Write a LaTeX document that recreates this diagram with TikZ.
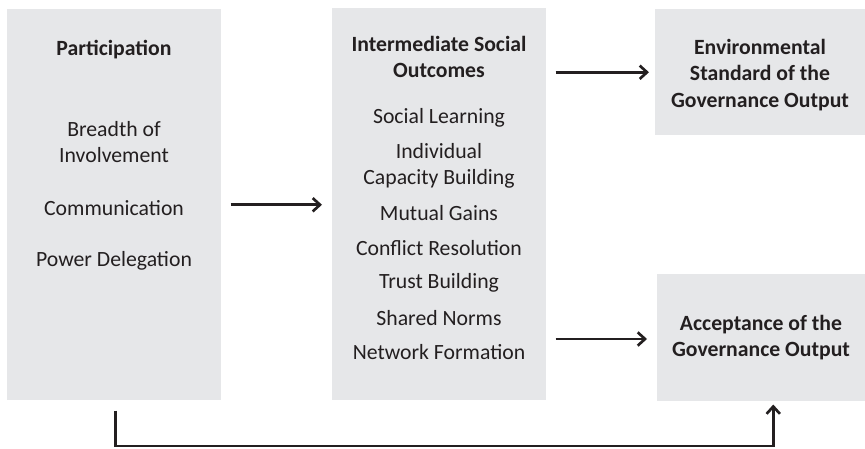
\documentclass[tikz,border=0pt]{standalone}
\usepackage{fontspec}
\setmainfont{Carlito}
\usetikzlibrary{arrows.meta,calc}
\definecolor{boxgray}{RGB}{230,231,233}
\definecolor{ink}{RGB}{35,31,32}
\begin{document}
\begin{tikzpicture}[x=0.75pt,y=-0.75pt,
  box/.style={fill=boxgray,draw=none,inner sep=0pt,anchor=north west},
  txt/.style={text=ink,align=center,font=\fontsize{16.3}{19.6}\selectfont,inner sep=0pt},
  ttl/.style={txt,font=\fontsize{16.3}{19.6}\selectfont\bfseries},
  tip/.style={-{Straight Barb[length=5.5pt,width=10pt,line width=2pt]}},
  arr/.style={draw=ink,line width=2pt,tip},
  lnk/.style={draw=ink,line width=2pt}]
\useasboundingbox (0,0) rectangle (865,449);
% boxes
\node[box,minimum width=160.5pt,minimum height=293.25pt] (p) at (7,9) {};
\node[box,minimum width=160.5pt,minimum height=294pt] (o) at (332,8) {};
\node[box,minimum width=157.5pt,minimum height=94.5pt] (env) at (655,9) {};
\node[box,minimum width=156pt,minimum height=95.25pt] (acc) at (657,274) {};
% participation texts
\node[ttl] (pt) at (114,50) {Participation};
\node[txt] (p1) at (114,142) {Breadth of\\Involvement};
\node[txt] (p2) at (114,208) {Communication};
\node[txt] (p3) at (114,261) {Power Delegation};
% intermediate texts
\node[ttl] (ot) at (439,57) {Intermediate Social\\Outcomes};
\node[txt] (o1) at (439,118) {Social Learning};
\node[txt] (o2) at (439,166) {Individual\\Capacity Building};
\node[txt] (o3) at (439,213) {Mutual Gains};
\node[txt] (o4) at (439,248) {Conflict Resolution};
\node[txt] (o5) at (439,283) {Trust Building};
\node[txt] (o6) at (439,318) {Shared Norms};
\node[txt] (o7) at (439,352) {Network Formation};
% outputs
\node[ttl] (et) at (760,75) {Environmental\\Standard of the\\Governance Output};
\node[ttl] (at) at (761,338) {Acceptance of the\\Governance Output};
% connectors
\coordinate (a1s) at ($(p.east)+(9,0)$);
\coordinate (a1e) at ($(o.west)+(-10,0)$);
\draw[arr] (a1s) -- (a1e |- a1s);
\coordinate (a2s) at ($(o.east |- env.west)+(9,0)$);
\draw[arr] (a2s) -- ($(env.west)+(-6,0)$);
\coordinate (a3s) at ($(o.east)+(9,0)$);
\coordinate (a3e) at ($(acc.west)+(-10,0)$);
\draw[arr] (a3s |- 0,339) -- (a3e |- 0,339);
\coordinate (b1) at ($(p.south)+(1,10)$);
\coordinate (b2) at ($(acc.south)+(12,3)$);
\draw[arr] (b1) -- (b1 |- 0,446) -| (b2);
\end{tikzpicture}
\end{document}
